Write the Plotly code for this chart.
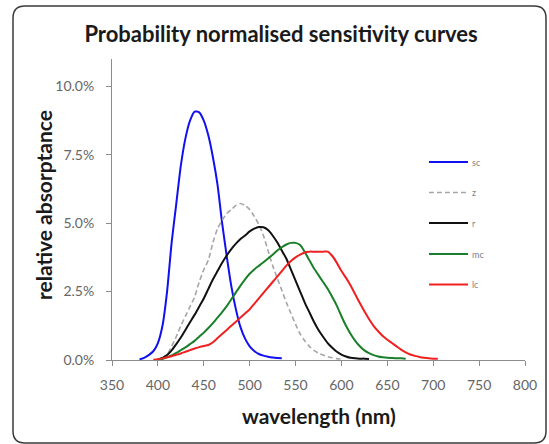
import plotly.graph_objects as go

# ---- data (relative absorptance, %) ----
wl_sc = [380, 385, 390, 395, 400, 405, 410, 415, 420, 425, 430, 435, 440, 445, 450, 455, 460, 465,
         470, 475, 480, 485, 490, 495, 500, 505, 510, 515, 520, 525, 530, 535]
sc = [0.02, 0.08, 0.18, 0.32, 0.62, 1.25, 2.5, 4.3, 5.7, 7.1, 8.1, 8.75, 9.08, 9.05, 8.75, 8.2, 7.4, 6.4,
      5.0, 3.8, 2.7, 1.85, 1.2, 0.78, 0.5, 0.33, 0.22, 0.16, 0.12, 0.09, 0.07, 0.06]

wl_z = [405, 410, 415, 420, 425, 430, 435, 440, 445, 450, 455, 460, 465, 470, 475, 480, 485, 490, 495,
        500, 505, 510, 515, 520, 525, 530, 535, 540, 545, 550, 555, 560, 565, 570, 575, 580, 585, 590, 595, 600]
z = [0.05, 0.2, 0.5, 0.85, 1.25, 1.6, 1.95, 2.3, 2.85, 3.3, 3.65, 4.3, 4.8, 5.1, 5.35, 5.5, 5.65, 5.72, 5.65,
     5.5, 5.25, 4.95, 4.55, 4.0, 3.45, 3.0, 2.55, 2.1, 1.7, 1.3, 0.95, 0.7, 0.5, 0.35, 0.25, 0.18, 0.12, 0.08, 0.05, 0.03]

wl_r = [400, 405, 410, 415, 420, 425, 430, 435, 440, 445, 450, 455, 460, 465, 470, 475, 480, 485, 490, 495,
        500, 505, 510, 515, 520, 525, 530, 535, 540, 545, 550, 555, 560, 565, 570, 575, 580, 585, 590, 595,
        600, 605, 610, 615, 620, 625, 630]
r = [0.02, 0.08, 0.18, 0.35, 0.58, 0.82, 1.1, 1.38, 1.65, 1.95, 2.25, 2.6, 2.95, 3.25, 3.55, 3.82, 4.05, 4.25,
     4.42, 4.55, 4.7, 4.8, 4.86, 4.85, 4.75, 4.55, 4.3, 4.0, 3.7, 3.3, 2.9, 2.5, 2.1, 1.75, 1.4, 1.1, 0.85,
     0.62, 0.45, 0.3, 0.2, 0.13, 0.08, 0.06, 0.05, 0.05, 0.04]

wl_mc = [400, 405, 410, 415, 420, 425, 430, 435, 440, 445, 450, 455, 460, 465, 470, 475, 480, 485, 490, 495,
         500, 505, 510, 515, 520, 525, 530, 535, 540, 545, 550, 555, 560, 565, 570, 575, 580, 585, 590, 595,
         600, 605, 610, 615, 620, 625, 630, 635, 640, 645, 650, 655, 660, 665, 670]
mc = [0.01, 0.04, 0.1, 0.17, 0.26, 0.36, 0.46, 0.58, 0.7, 0.85, 1.0, 1.17, 1.35, 1.55, 1.75, 1.97, 2.22, 2.47,
      2.72, 2.95, 3.15, 3.31, 3.44, 3.57, 3.71, 3.85, 4.0, 4.12, 4.22, 4.28, 4.28, 4.2, 3.95, 3.65, 3.35, 3.1,
      2.85, 2.6, 2.3, 1.98, 1.6, 1.25, 0.95, 0.7, 0.5, 0.35, 0.25, 0.18, 0.13, 0.1, 0.08, 0.07, 0.06, 0.06, 0.05]

wl_lc = [395, 400, 405, 410, 415, 420, 425, 430, 435, 440, 445, 450, 455, 460, 465, 470, 475, 480, 485, 490,
         495, 500, 505, 510, 515, 520, 525, 530, 535, 540, 545, 550, 555, 560, 565, 570, 575, 580, 585, 590,
         595, 600, 605, 610, 615, 620, 625, 630, 635, 640, 645, 650, 655, 660, 665, 670, 675, 680, 685, 690,
         695, 700, 705]
lc = [0.01, 0.03, 0.06, 0.1, 0.14, 0.19, 0.24, 0.3, 0.36, 0.42, 0.47, 0.51, 0.55, 0.65, 0.8, 0.95, 1.1, 1.25,
      1.4, 1.55, 1.7, 1.85, 2.05, 2.25, 2.45, 2.65, 2.85, 3.05, 3.25, 3.45, 3.62, 3.75, 3.85, 3.93, 3.96,
      3.96, 3.96, 3.96, 3.96, 3.8, 3.55, 3.25, 3.0, 2.72, 2.4, 2.08, 1.78, 1.5, 1.25, 1.05, 0.88, 0.74, 0.62,
      0.5, 0.38, 0.28, 0.2, 0.15, 0.11, 0.08, 0.06, 0.05, 0.05]

x_ticks = [350, 400, 450, 500, 550, 600, 650, 700, 750, 800]
y_ticks = [0.0, 0.025, 0.05, 0.075, 0.10]
y_tick_labels = ["0.0%", "2.5%", "5.0%", "7.5%", "10.0%"]

series = [
    ("sc", wl_sc, sc, "#1010f0", "solid", 2),
    ("z", wl_z, z, "#a6a6a6", "5px,3px", 1.6),
    ("r", wl_r, r, "#111111", "solid", 2),
    ("mc", wl_mc, mc, "#1a7f2a", "solid", 2),
    ("lc", wl_lc, lc, "#f02020", "solid", 2),
]

FONT = "Lato, 'Open Sans', sans-serif"
AXC = "#8c8c8c"
W, H, L, T = 413, 301, 112, 59          # plot-area geometry in px
def xp(p): return (p - L) / W
def yp(p): return (T + H - p) / H

fig = go.Figure()
for i, (name, xs, ys, col, dash, w) in enumerate(series):
    fig.add_trace(go.Scatter(
        x=xs, y=[v / 100 for v in ys], name=name, mode="lines",
        line=dict(color=col, width=w, dash=dash, shape="spline", smoothing=0.6),
        showlegend=False,
    ))

fig.update_layout(
    width=549, height=444,
    margin=dict(l=L, r=549 - L - W, t=T, b=444 - T - H),
    paper_bgcolor="white", plot_bgcolor="white",
    font=dict(family=FONT, color="#595959"),
    title=dict(text="<b>Probability normalised sensitivity curves</b>",
               x=0.512, xanchor="center", y=1 - 34 / 444, yanchor="middle",
               font=dict(size=22, color="#1a1a1a", family=FONT)),
    showlegend=False,
    xaxis=dict(range=[350, 800], tickvals=x_ticks, showgrid=False, zeroline=False,
               showline=True, linecolor=AXC, linewidth=1, ticks="outside", ticklen=5,
               tickcolor=AXC, tickfont=dict(size=14, color="#666666"), ticklabelstandoff=7),
    yaxis=dict(range=[0, 0.11], tickvals=y_ticks, ticktext=y_tick_labels, showgrid=False,
               zeroline=False, showline=True, linecolor=AXC, linewidth=1, ticks="outside",
               ticklen=5, tickcolor=AXC, tickfont=dict(size=14, color="#666666"),
               ticklabelstandoff=9),
)

# axis titles
fig.add_annotation(text="<b>wavelength (nm)</b>", xref="paper", yref="paper",
                   x=0.5, y=yp(415), xanchor="center", yanchor="middle", showarrow=False,
                   font=dict(size=21, color="#1a1a1a", family=FONT))
fig.add_annotation(text="<b>relative absorptance</b>", xref="paper", yref="paper",
                   x=xp(43), y=yp(205), xanchor="center", yanchor="middle", showarrow=False,
                   textangle=-90, font=dict(size=21, color="#1a1a1a", family=FONT))

# legend (manual, to get the long line samples)
leg_y = [162, 192.5, 223, 254, 284.5]
for (name, xs, ys, col, dash, w), ly in zip(series, leg_y):
    fig.add_shape(type="line", xref="paper", yref="paper", x0=xp(429), x1=xp(468),
                  y0=yp(ly), y1=yp(ly), line=dict(color=col, width=w, dash=dash))
    fig.add_annotation(text=name, xref="paper", yref="paper", x=xp(470), y=yp(ly),
                       xanchor="left", yanchor="middle", showarrow=False,
                       font=dict(size=9, color="#7f7f7f", family=FONT))

# rounded chart-area border
px0, px1, py0, py1 = 13, 546, 6, 443
rx, ry = 12 / W, 12 / H
x0, x1, y0, y1 = xp(px0), xp(px1), yp(py1), yp(py0)
path = (f"M{x0+rx},{y1} L{x1-rx},{y1} Q{x1},{y1} {x1},{y1-ry} L{x1},{y0+ry} Q{x1},{y0} {x1-rx},{y0} "
        f"L{x0+rx},{y0} Q{x0},{y0} {x0},{y0+ry} L{x0},{y1-ry} Q{x0},{y1} {x0+rx},{y1} Z")
fig.add_shape(type="path", path=path, xref="paper", yref="paper",
              line=dict(color="#3a3a3a", width=1.5), layer="below")

fig.write_html("out.html", config={"displayModeBar": False},
               post_script="document.body.style.margin='0';")
